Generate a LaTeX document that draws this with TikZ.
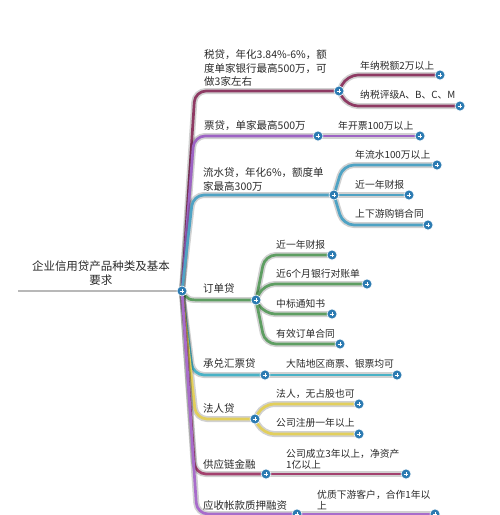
\documentclass[tikz,border=0pt]{standalone}
\usepackage{fontspec}
\setmainfont{Noto Sans CJK SC}
\pgfdeclarelayer{bg}
\pgfsetlayers{bg,main}
\definecolor{cA}{HTML}{8E3A63}
\definecolor{cB}{HTML}{9D63C4}
\definecolor{cC}{HTML}{4FA3C4}
\definecolor{cD}{HTML}{5E9E62}
\definecolor{cE}{HTML}{49B2C6}
\definecolor{cF}{HTML}{E2CF5C}
\definecolor{cG}{HTML}{A3416E}
\definecolor{cH}{HTML}{A86CCB}
\definecolor{nodeblue}{HTML}{2C7BB2}
\definecolor{txt}{HTML}{2A2A2A}
\tikzset{
  plusnode/.style={circle, fill=nodeblue, draw=white, line width=0.6pt, minimum size=10pt, inner sep=0pt,
    path picture={
      \draw[white, line width=1pt] ([xshift=-2.4pt]path picture bounding box.center) -- ([xshift=2.4pt]path picture bounding box.center);
      \draw[white, line width=1pt] ([yshift=-2.4pt]path picture bounding box.center) -- ([yshift=2.4pt]path picture bounding box.center);
    }},
  branch/.style={line width=2.7pt, rounded corners=11pt, preaction={draw, line width=6pt, opacity=0.18}},
  roottext/.style={font=\fontsize{11.5}{14}\selectfont, align=center, text=txt, inner sep=0pt},
  maintext/.style={font=\fontsize{10.5}{13.5}\selectfont, align=left, anchor=west, text=txt, inner sep=0pt},
  subtext/.style={font=\fontsize{9.8}{11.5}\selectfont, align=left, anchor=west, text=txt, inner sep=0pt},
}
\begin{document}
\begin{tikzpicture}[x=1pt,y=-1pt]
\begin{pgfonlayer}{bg}
\fill[white] (0,0) rectangle (500,515);
\end{pgfonlayer}
\useasboundingbox (0,0) rectangle (500,515);

% nodes (circles)
\node[plusnode] (root) at (182,291) {};
\coordinate (rootstart) at (18,291);
\node[plusnode] (A) at (339,91) {};
\node[plusnode] (B) at (318,136) {};
\node[plusnode] (C) at (334,195) {};
\node[plusnode] (D) at (256,300) {};
\node[plusnode] (E) at (265,375) {};
\node[plusnode] (F) at (255,419) {};
\node[plusnode] (G) at (266,474) {};
\node[plusnode] (H) at (297,514) {};

\node[plusnode] (A1) at (440,75) {};
\node[plusnode] (A2) at (460,106) {};
\node[plusnode] (B1) at (420,136) {};
\node[plusnode] (C1) at (437,165) {};
\node[plusnode] (C2) at (409,195) {};
\node[plusnode] (C3) at (428,225) {};
\node[plusnode] (D1) at (332,255) {};
\node[plusnode] (D2) at (367,284) {};
\node[plusnode] (D3) at (332,314) {};
\node[plusnode] (D4) at (340,344) {};
\node[plusnode] (E1) at (397,375) {};
\node[plusnode] (F1) at (359,404) {};
\node[plusnode] (F2) at (359,434) {};
\node[plusnode] (G1) at (406,474) {};
\node[plusnode] (H1) at (435,514) {};

% connectors (behind circles)
\begin{pgfonlayer}{bg}
\draw[line width=2.4pt, color=black!28] (rootstart) -- (root.center);
\draw[branch, cA] (root.center) -- (195,91) -- (A.center);
\draw[branch, cB] (root.center) -- (194,136) -- (B.center);
\draw[branch, cC] (root.center) -- (193,195) -- (C.center);
\draw[branch, cD, rounded corners=0pt] (root.center) .. controls (188,300) .. (202,300) -- (D.center);
\draw[branch, cE] (root.center) -- (193,375) -- (E.center);
\draw[branch, cF] (root.center) -- (196,419) -- (F.center);
\draw[branch, cG] (root.center) -- (195,474) -- (G.center);
\draw[branch, cH] (root.center) -- (197,514) -- (H.center);

\draw[branch, cA] (A.center) -- (347,75) -- (A1.center);
\draw[branch, cA] (A.center) -- (347,106) -- (A2.center);
\draw[branch, cB] (B.center) -- (B1.center);
\draw[branch, cC] (C.center) -- (343,165) -- (C1.center);
\draw[branch, cC] (C.center) -- (C2.center);
\draw[branch, cC] (C.center) -- (343,225) -- (C3.center);
\draw[branch, cD] (D.center) -- (265,255) -- (D1.center);
\draw[branch, cD] (D.center) -- (264,284) -- (D2.center);
\draw[branch, cD] (D.center) -- (264,314) -- (D3.center);
\draw[branch, cD] (D.center) -- (265,344) -- (D4.center);
\draw[branch, cE] (E.center) -- (E1.center);
\draw[branch, cF] (F.center) -- (263,404) -- (F1.center);
\draw[branch, cF] (F.center) -- (263,434) -- (F2.center);
\draw[branch, cG] (G.center) -- (G1.center);
\draw[branch, cH] (H.center) -- (H1.center);
\end{pgfonlayer}

% texts
\node[roottext] (troot) at (101,273) {企业信用贷产品种类及基本\\要求};
\node[maintext] (tA) at (204,68) {税贷，年化3.84\%-6\%，额\\度单家银行最高500万，可\\做3家左右};
\node[maintext] (tB) at (204,126) {票贷，单家最高500万};
\node[maintext] (tC) at (203,179.5) {流水贷，年化6\%，额度单\\家最高300万};
\node[maintext] (tD) at (203,289) {订单贷};
\node[maintext] (tE) at (203,364) {承兑汇票贷};
\node[maintext] (tF) at (203,409) {法人贷};
\node[maintext] (tG) at (203,464) {供应链金融};
\node[maintext] (tH) at (203,505) {应收帐款质押融资};

\node[subtext] (tA1) at (360,66) {年纳税额2万以上};
\node[subtext] (tA2) at (360,95) {纳税评级A、B、C、M};
\node[subtext] (tB1) at (338,126) {年开票100万以上};
\node[subtext] (tC1) at (355,155) {年流水100万以上};
\node[subtext] (tC2) at (355,185) {近一年财报};
\node[subtext] (tC3) at (355,214) {上下游购销合同};
\node[subtext] (tD1) at (276,245) {近一年财报};
\node[subtext] (tD2) at (276,274) {近6个月银行对账单};
\node[subtext] (tD3) at (276,304) {中标通知书};
\node[subtext] (tD4) at (276,334) {有效订单合同};
\node[subtext] (tE1) at (286,364) {大陆地区商票、银票均可};
\node[subtext] (tF1) at (276,394) {法人，无占股也可};
\node[subtext] (tF2) at (276,423) {公司注册一年以上};
\node[subtext] (tG1) at (286,459.5) {公司成立3年以上，净资产\\1亿以上};
\node[subtext] (tH1) at (317,500) {优质下游客户，合作1年以\\上};
\end{tikzpicture}
\end{document}
